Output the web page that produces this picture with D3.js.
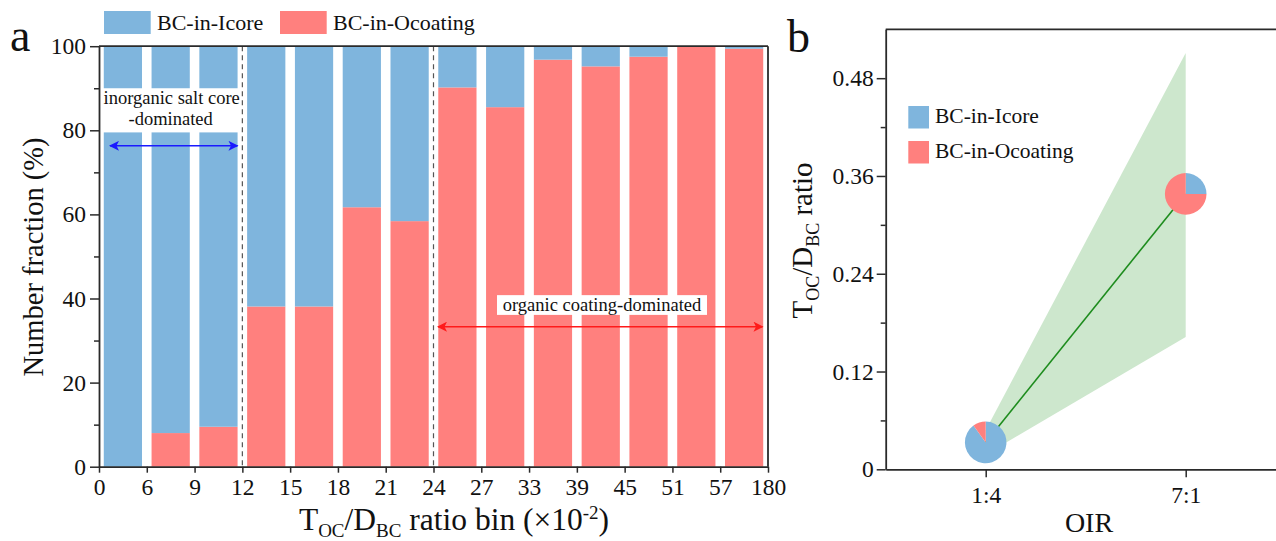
<!DOCTYPE html>
<html><head><meta charset="utf-8">
<script src="https://cdn.jsdelivr.net/npm/d3@7/dist/d3.min.js"></script>
<style>
body{margin:0;background:#fff;}
svg{display:block;font-family:"Liberation Serif","Times New Roman",serif;}
svg text{font-family:"Liberation Serif","Times New Roman",serif;}
</style>
</head><body>
<svg id="c" width="1276" height="541"></svg>
<script>
// ---------- DATA ----------
const seriesNames = ["BC-in-Icore", "BC-in-Ocoating"];
const binEdges = ["0","6","9","12","15","18","21","24","27","33","39","45","51","57","180"];
const binIds = ["0-6","6-9","9-12","12-15","15-18","18-21","21-24","24-27","27-33","33-39","39-45","45-51","51-57","57-180"];
const icoreFraction    = [100, 92.0, 90.5, 61.9, 61.9, 38.3, 41.6, 9.8, 14.5, 3.2, 4.8, 2.5, 0, 0.6];
const ocoatingFraction = [0, 8.0, 9.5, 38.1, 38.1, 61.7, 58.4, 90.2, 85.5, 96.8, 95.2, 97.5, 100, 99.4];
const fracTicks = [0, 20, 40, 60, 80, 100];
const fracMinor = [10, 30, 50, 70, 90];

const oirLabels = ["1:4", "7:1"];
const ratioMean = [0.033, 0.338];
const ratioLow  = [0.018, 0.1625];
const ratioHigh = [0.048, 0.511];
const pieIcore    = [90, 25];
const pieOcoating = [10, 75];
const ratioTicks = [0, 0.12, 0.24, 0.36, 0.48];
const ratioMinor = [0.06, 0.18, 0.30, 0.42];

// ---------- STYLE ----------
const blue = "#7fb5dd", red = "#ff807e", axisCol = "#2a2a2a";
const svg = d3.select("#c");

function styleAxis(g){
  g.attr("font-family", null).attr("font-size", null);
  g.selectAll("path.domain").attr("stroke", axisCol).attr("stroke-width", 1.8);
  g.selectAll(".tick line").attr("stroke", axisCol).attr("stroke-width", 1.5);
  g.selectAll(".tick text").attr("fill", "#111").style("font-size", "23.5px");
}

// ================= PANEL A =================
const A = {l: 99, r: 768, t: 46.2, b: 466.7};
const xa = d3.scaleBand().domain(binIds).range([A.l, A.r]).paddingInner(0.2).paddingOuter(0.1);
const xe = d3.scalePoint().domain(binEdges).range([A.l, A.r]);
const ya = d3.scaleLinear().domain([0, 100]).range([A.b, A.t]);

const rows = binIds.map((id, i) => ({id, "BC-in-Icore": icoreFraction[i], "BC-in-Ocoating": ocoatingFraction[i]}));
const stack = d3.stack().keys(["BC-in-Ocoating", "BC-in-Icore"])(rows);
const colorOf = {"BC-in-Icore": blue, "BC-in-Ocoating": red};

const ga = svg.append("g");
ga.selectAll("g.layer").data(stack).join("g").attr("fill", d => colorOf[d.key])
  .selectAll("rect").data(d => d).join("rect")
  .attr("x", d => xa(d.data.id)).attr("width", xa.bandwidth())
  .attr("y", d => ya(d[1])).attr("height", d => Math.max(0, ya(d[0]) - ya(d[1])));

// dashed separators
["12", "24"].forEach(e => {
  ga.append("line").attr("x1", xe(e)).attr("x2", xe(e)).attr("y1", A.t).attr("y2", A.b)
    .attr("stroke", "#555").attr("stroke-width", 1.2).attr("stroke-dasharray", "5,4");
});

// annotation boxes
ga.append("rect").attr("x", xe("0") + 2).attr("width", xe("12") - xe("0") - 4)
  .attr("y", ya(90)).attr("height", ya(79.5) - ya(90)).attr("fill", "#fff");
const annFont = "18.5px";
ga.append("text").attr("x", (xe("0") + xe("12")) / 2 + 1).attr("y", 103.5).attr("text-anchor", "middle")
  .style("font-size", annFont).attr("fill", "#111").text("inorganic salt core");
ga.append("text").attr("x", (xe("0") + xe("12")) / 2).attr("y", 124.5).attr("text-anchor", "middle")
  .style("font-size", annFont).attr("fill", "#111").text("-dominated");

ga.append("rect").attr("x", 497).attr("width", 210).attr("y", ya(40.8)).attr("height", ya(36.1) - ya(40.8)).attr("fill", "#fff");
ga.append("text").attr("x", 602).attr("y", 310.5).attr("text-anchor", "middle")
  .style("font-size", annFont).attr("fill", "#111").text("organic coating-dominated");

// arrows
const defs = svg.append("defs");
function marker(id, col){
  const m = defs.append("marker").attr("id", id).attr("viewBox", "0 0 10 10").attr("refX", 9).attr("refY", 5)
    .attr("markerWidth", 11).attr("markerHeight", 10).attr("markerUnits", "userSpaceOnUse").attr("orient", "auto-start-reverse");
  m.append("path").attr("d", "M0,0 L10,5 L0,10 L2.5,5 Z").attr("fill", col);
}
marker("ab", "#1a1aff"); marker("ar", "#ff1a1a");
ga.append("line").attr("x1", 110).attr("x2", 237.5).attr("y1", ya(76.3)).attr("y2", ya(76.3))
  .attr("stroke", "#1a1aff").attr("stroke-width", 1.5).attr("marker-start", "url(#ab)").attr("marker-end", "url(#ab)");
ga.append("line").attr("x1", 438).attr("x2", 762.5).attr("y1", ya(33.3)).attr("y2", ya(33.3))
  .attr("stroke", "#ff1a1a").attr("stroke-width", 1.5).attr("marker-start", "url(#ar)").attr("marker-end", "url(#ar)");

// axes
const yaxA = ga.append("g").attr("transform", `translate(${A.l},0)`)
  .call(d3.axisLeft(ya).tickValues(fracTicks).tickSize(9).tickSizeOuter(0).tickPadding(4).tickFormat(d3.format("d")));
styleAxis(yaxA);
const yaxAm = ga.append("g").attr("transform", `translate(${A.l},0)`)
  .call(d3.axisLeft(ya).tickValues(fracMinor).tickSize(5).tickSizeOuter(0).tickFormat(""));
styleAxis(yaxAm); yaxAm.select("path.domain").remove();
const xaxA = ga.append("g").attr("transform", `translate(0,${A.b})`)
  .call(d3.axisBottom(xe).tickSize(6).tickSizeOuter(0).tickPadding(6));
styleAxis(xaxA);
ga.append("line").attr("x1", A.l).attr("x2", A.r).attr("y1", A.t).attr("y2", A.t).attr("stroke", axisCol).attr("stroke-width", 1.8);
ga.append("line").attr("x1", A.r).attr("x2", A.r).attr("y1", A.t).attr("y2", A.b).attr("stroke", axisCol).attr("stroke-width", 1.8);

// titles
const tA = ga.append("text").attr("x", 454).attr("y", 530).attr("text-anchor", "middle").style("font-size", "31.5px").attr("fill", "#111");
tA.append("tspan").text("T");
tA.append("tspan").attr("dy", 7).style("font-size", "19px").text("OC");
tA.append("tspan").attr("dy", -7).text("/D");
tA.append("tspan").attr("dy", 7).style("font-size", "19px").text("BC");
tA.append("tspan").attr("dy", -7).text(" ratio bin (×10");
tA.append("tspan").attr("dy", -11).style("font-size", "19px").text("-2");
tA.append("tspan").attr("dy", 11).text(")");

ga.append("text").attr("transform", "translate(43,257) rotate(-90)").attr("text-anchor", "middle")
  .style("font-size", "28.5px").attr("fill", "#111").text("Number fraction (%)");

svg.append("text").attr("x", 10).attr("y", 51).style("font-size", "46px").attr("fill", "#111").text("a");

// legend a
const legA = [{k: "BC-in-Icore", x: 104}, {k: "BC-in-Ocoating", x: 280}];
legA.forEach(d => {
  svg.append("rect").attr("x", d.x).attr("y", 11).attr("width", 46.7).attr("height", 23).attr("fill", colorOf[d.k]);
  svg.append("text").attr("x", d.x + 53).attr("y", 29.5).style("font-size", "22px").attr("fill", "#111").text(d.k);
});

// ================= PANEL B =================
const B = {l: 885.7, t: 29.3, b: 469.3};
const xb = d3.scaleLinear().domain([0.5, 2.5]).range([B.l, B.l + 400]);
const yb = d3.scaleLinear().domain([0, 0.54]).range([B.b, B.t]);
const pts = oirLabels.map((o, i) => ({o, x: i + 1, m: ratioMean[i], lo: ratioLow[i], hi: ratioHigh[i], ic: pieIcore[i], oc: pieOcoating[i]}));
const gb = svg.append("g");

gb.append("path").datum(pts)
  .attr("d", d3.area().x(d => xb(d.x)).y0(d => yb(d.lo)).y1(d => yb(d.hi)))
  .attr("fill", "#cde7cd");
gb.append("path").datum(pts)
  .attr("d", d3.line().x(d => xb(d.x)).y(d => yb(d.m)))
  .attr("fill", "none").attr("stroke", "#1e8c1e").attr("stroke-width", 1.6);

const pie = d3.pie().sort(null).value(d => d.v);
const arc = d3.arc().innerRadius(0).outerRadius(20.8);
pts.forEach(p => {
  const g = gb.append("g").attr("transform", `translate(${xb(p.x)},${yb(p.m)})`);
  g.selectAll("path").data(pie([{k: "BC-in-Icore", v: p.ic}, {k: "BC-in-Ocoating", v: p.oc}]))
    .join("path").attr("d", arc).attr("fill", d => colorOf[d.data.k]);
});

const yaxB = gb.append("g").attr("transform", `translate(${B.l},0)`)
  .call(d3.axisLeft(yb).tickValues(ratioTicks).tickSize(9).tickSizeOuter(0).tickPadding(3)
    .tickFormat(d => d === 0 ? "0" : d3.format(".2f")(d)));
styleAxis(yaxB);
const yaxBm = gb.append("g").attr("transform", `translate(${B.l},0)`)
  .call(d3.axisLeft(yb).tickValues(ratioMinor).tickSize(5).tickSizeOuter(0).tickFormat(""));
styleAxis(yaxBm); yaxBm.select("path.domain").remove();
const xaxB = gb.append("g").attr("transform", `translate(0,${B.b})`)
  .call(d3.axisBottom(xb).tickValues([1, 2]).tickSize(8).tickSizeOuter(0).tickPadding(9)
    .tickFormat(d => oirLabels[d - 1]));
styleAxis(xaxB);
gb.append("line").attr("x1", B.l).attr("x2", 1290).attr("y1", B.t).attr("y2", B.t).attr("stroke", axisCol).attr("stroke-width", 1.8);

gb.append("text").attr("x", 1089).attr("y", 531.5).attr("text-anchor", "middle").style("font-size", "28px").attr("fill", "#111").text("OIR");
const tB = gb.append("text").attr("transform", "translate(811.5,240.5) rotate(-90)").attr("text-anchor", "middle")
  .style("font-size", "29px").attr("fill", "#111");
tB.append("tspan").text("T");
tB.append("tspan").attr("dy", 7).style("font-size", "18px").text("OC");
tB.append("tspan").attr("dy", -7).text("/D");
tB.append("tspan").attr("dy", 7).style("font-size", "18px").text("BC");
tB.append("tspan").attr("dy", -7).text(" ratio");

svg.append("text").attr("x", 787).attr("y", 51.5).style("font-size", "46px").attr("fill", "#111").text("b");

// legend b
[{k: "BC-in-Icore", y: 106}, {k: "BC-in-Ocoating", y: 141}].forEach(d => {
  gb.append("rect").attr("x", 908.3).attr("y", d.y).attr("width", 20.7).attr("height", 22.5).attr("fill", colorOf[d.k]);
  gb.append("text").attr("x", 935).attr("y", d.y + 17).style("font-size", "21.5px").attr("fill", "#111").text(d.k);
});
</script>
</body></html>
